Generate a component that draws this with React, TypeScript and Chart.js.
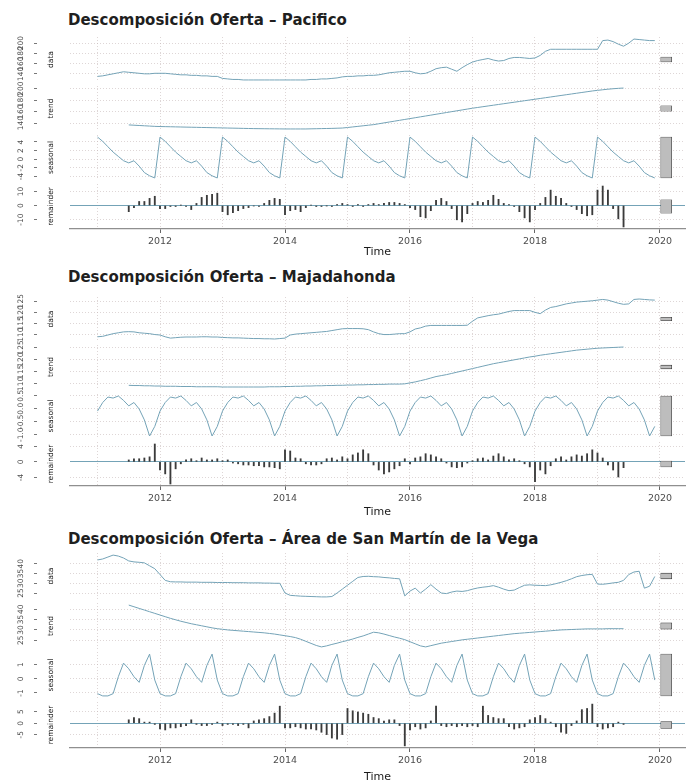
import React, { useEffect, useRef } from "react";
import { Chart, registerables } from "chart.js";
Chart.register(...registerables);

// ---------------- data (monthly, Jan 2011 - Dec 2019) ----------------
const MONTHS = 108;
const TIME = Array.from({ length: MONTHS }, (_, i) => 2011 + i / 12);
const YEAR_GRID = [2011, 2012, 2013, 2014, 2015, 2016, 2017, 2018, 2019, 2020];
const YEAR_LABELS = ["2012", "2014", "2016", "2018", "2020"];
const STRIPS = ["data", "trend", "seasonal", "remainder"];

const PAC_DATA = [
  135, 136, 138, 140, 142, 144, 143, 142, 141, 140, 140, 141,
  141, 141, 140, 139, 138, 138, 137, 137, 136, 136, 135, 135,
  131, 130, 129, 129, 128, 128, 128, 128, 128, 128, 128, 128,
  128, 128, 128, 128, 128, 129, 129, 130, 130, 131, 132, 134,
  135, 135, 136, 136, 137, 137, 138, 140, 142, 143, 144, 145,
  145, 142, 140, 141, 145, 150, 152, 153, 149, 145, 152, 158,
  163, 166, 168, 170, 167, 165, 166, 170, 172, 172, 171, 170,
  171, 176, 184, 188, 188, 188, 188, 188, 188, 188, 188, 188,
  188, 205, 206, 203, 198, 194, 200, 208, 207, 206, 205, 205,
];
const PAC_TREND = [
  null, null, null, null, null, null,
  137, 136.5, 136, 135.5, 135, 134.5,
  134.2, 134, 133.8, 133.6, 133.4, 133.2, 133, 132.8, 132.6, 132.4, 132.2, 132,
  131.8, 131.6, 131.4, 131.2, 131, 130.8, 130.6, 130.5, 130.4, 130.3, 130.2, 130.1,
  130, 130, 130, 130, 130, 130.2, 130.4, 130.6, 130.8, 131, 131.3, 131.6,
  132.5, 133.5, 134.5, 135.5, 136.5, 137.5, 139, 140.5, 142, 143.5, 145, 146.5,
  148, 149.5, 151, 152.5, 154, 155.5, 157, 158.5, 160, 161.5, 163, 164.5,
  166, 167.3, 168.6, 169.9, 171.2, 172.5, 173.8, 175.1, 176.4, 177.7, 179, 180.3,
  181.6, 182.9, 184.2, 185.5, 186.8, 188.1, 189.4, 190.7, 192, 193.3, 194.6, 195.9,
  197, 198, 199, 199.8, 200.5, 201,
  null, null, null, null, null, null,
];
const PAC_SEASONAL = [
  5.15, 4.15, 2.9, 1.65, 0.65, -0.35, -0.85, -0.35, -1.6, -3.1, -3.85, -4.35,
  5.15, 4.15, 2.9, 1.65, 0.65, -0.35, -0.85, -0.35, -1.6, -3.1, -3.85, -4.35,
  5.15, 4.15, 2.9, 1.65, 0.65, -0.35, -0.85, -0.35, -1.6, -3.1, -3.85, -4.35,
  5.15, 4.15, 2.9, 1.65, 0.65, -0.35, -0.85, -0.35, -1.6, -3.1, -3.85, -4.35,
  5.15, 4.15, 2.9, 1.65, 0.65, -0.35, -0.85, -0.35, -1.6, -3.1, -3.85, -4.35,
  5.15, 4.15, 2.9, 1.65, 0.65, -0.35, -0.85, -0.35, -1.6, -3.1, -3.85, -4.35,
  5.15, 4.15, 2.9, 1.65, 0.65, -0.35, -0.85, -0.35, -1.6, -3.1, -3.85, -4.35,
  5.15, 4.15, 2.9, 1.65, 0.65, -0.35, -0.85, -0.35, -1.6, -3.1, -3.85, -4.35,
  5.15, 4.15, 2.9, 1.65, 0.65, -0.35, -0.85, -0.35, -1.6, -3.1, -3.85, -4.35,
];
const PAC_REMAINDER = [
  null, null, null, null, null, null,
  -4.4, -1.5, 2.9, 2.9, 5.1, 6.6,
  -2.2, -2.2, -0.7, -0.7, 0.2, -0.7, -2.9, 1.5, 5.8, 7.3, 8.0, 8.8,
  -4.4, -6.6, -5.1, -3.7, -2.2, -1.5, -0.3, -0.7, 1.5, 3.7, 5.1, 4.4,
  -6.6, -3.7, -2.9, -4.4, -1.5, 0.3, -0.7, -0.7, -0.2, -0.7, 0.7, 1.5,
  0.7, -0.7, 0.7, -0.7, 0.7, 1.5, 0.7, 1.5, 2.2, 2.2, 1.5, 0.7,
  -1.5, -2.9, -8.0, -8.8, -3.7, 3.7, 5.1, 2.9, -2.2, -10.2, -11.7, -5.8,
  1.5, 2.9, 2.2, 3.7, 7.3, 4.4, 1.5, 0.7, -0.7, -4.4, -8.8, -11.7,
  -2.9, 1.5, 5.8, 11.0, 6.6, 5.1, 1.5, -0.7, -2.9, -5.8, -7.3, -6.6,
  11.0, 13.9, 11.0, -2.2, -9.5, -15.3,
  null, null, null, null, null, null,
];

const MAJ_DATA = [
  109.0, 109.2, 109.8, 110.4, 110.8, 111.2, 111.3, 111.2, 110.8, 110.6, 110.4, 110.0,
  109.8, 109.0, 108.4, 108.6, 108.8, 108.9, 108.9, 108.9, 109.0, 109.0, 108.9, 108.9,
  108.7, 108.6, 108.5, 108.5, 108.4, 108.3, 108.2, 108.2, 108.1, 108.1, 108.0, 108.2,
  108.4, 109.8, 110.2, 110.4, 110.6, 110.8, 111.0, 111.2, 111.4, 111.8, 112.2, 112.6,
  112.7, 112.7, 112.7, 112.6, 112.2, 111.2, 110.4, 110.0, 110.0, 110.2, 110.4, 110.4,
  111.2, 112.5, 113.0, 113.8, 114.1, 114.1, 114.1, 114.1, 114.1, 114.1, 114.1, 114.2,
  116.0, 117.5, 118.0, 118.5, 118.9, 119.2, 119.8, 120.4, 120.8, 120.8, 120.8, 120.8,
  120.0, 119.4, 121.0, 122.2, 122.6, 123.2, 123.8, 124.2, 124.6, 124.8, 125.0, 125.2,
  125.5, 125.8, 125.5, 124.8, 124.1, 123.6, 123.8, 125.8, 126.0, 125.8, 125.6, 125.5,
];
const MAJ_TREND = [
  null, null, null, null, null, null,
  109.4, 109.3, 109.3, 109.2, 109.2, 109.1,
  109.1, 109.0, 109.0, 109.0, 108.9, 108.9, 108.9, 108.8, 108.8, 108.8, 108.8, 108.8,
  108.7, 108.7, 108.7, 108.7, 108.7, 108.7, 108.7, 108.7, 108.7, 108.8, 108.8, 108.8,
  108.9, 108.9, 109.0, 109.0, 109.1, 109.1, 109.2, 109.2, 109.3, 109.3, 109.4, 109.4,
  109.5, 109.5, 109.6, 109.6, 109.7, 109.7, 109.8, 109.8, 109.9, 109.9, 109.9, 110.0,
  110.4, 110.8, 111.3, 111.8, 112.4, 113.0, 113.4, 113.8, 114.3, 114.8, 115.3, 115.8,
  116.3, 116.8, 117.3, 117.8, 118.3, 118.7, 119.1, 119.5, 119.9, 120.3, 120.7, 121.1,
  121.4, 121.8, 122.1, 122.4, 122.7, 123.0, 123.3, 123.6, 123.9, 124.1, 124.3, 124.5,
  124.7, 124.8, 124.9, 125.0, 125.1, 125.2,
  null, null, null, null, null, null,
];
const MAJ_SEASONAL = [
  -0.09, 0.24, 0.45, 0.41, 0.49, 0.32, 0.11, 0.24, -0.01, -0.43, -1.05, -0.68,
  -0.09, 0.24, 0.45, 0.41, 0.49, 0.32, 0.11, 0.24, -0.01, -0.43, -1.05, -0.68,
  -0.09, 0.24, 0.45, 0.41, 0.49, 0.32, 0.11, 0.24, -0.01, -0.43, -1.05, -0.68,
  -0.09, 0.24, 0.45, 0.41, 0.49, 0.32, 0.11, 0.24, -0.01, -0.43, -1.05, -0.68,
  -0.09, 0.24, 0.45, 0.41, 0.49, 0.32, 0.11, 0.24, -0.01, -0.43, -1.05, -0.68,
  -0.09, 0.24, 0.45, 0.41, 0.49, 0.32, 0.11, 0.24, -0.01, -0.43, -1.05, -0.68,
  -0.09, 0.24, 0.45, 0.41, 0.49, 0.32, 0.11, 0.24, -0.01, -0.43, -1.05, -0.68,
  -0.09, 0.24, 0.45, 0.41, 0.49, 0.32, 0.11, 0.24, -0.01, -0.43, -1.05, -0.68,
  -0.09, 0.24, 0.45, 0.41, 0.49, 0.32, 0.11, 0.24, -0.01, -0.43, -1.05, -0.68,
];
const MAJ_REMAINDER = [
  null, null, null, null, null, null,
  0.5, 0.8, 0.8, 1.0, 1.3, 4.6,
  -2.1, -3.1, -5.7, -1.8, -0.5, 0.5, 0.8, 0.3, 1.0, 0.5, 0.5, 0.8,
  0.3, 0.5, -0.3, -0.5, -0.8, -0.8, -1.0, -1.0, -1.3, -1.3, -1.5, -1.8,
  3.1, 2.8, 1.0, 0.8, -0.5, -0.8, -0.8, -0.5, 0.8, 1.0, 0.5, 1.3,
  0.8, 1.8, 2.3, 3.1, 2.1, -0.8, -2.1, -3.1, -2.6, -1.8, -1.0, 0.8,
  -0.5, 1.0, 1.3, 2.1, 1.8, 1.3, 0.8, -0.3, -1.3, -1.5, -1.3, -0.3,
  0.3, 0.8, 1.0, 0.5, 1.5, 2.1, 1.3, 0.5, 0.8, 0.3, -0.5, -1.3,
  -5.1, -2.1, -3.1, -1.0, 0.8, 1.3, 0.5, 1.3, 1.8, 1.5, 2.1, 3.1,
  2.3, 1.0, -0.8, -2.1, -3.9, -1.5,
  null, null, null, null, null, null,
];

const SMV_DATA = [
  42, 42.5, 43.5, 44.5, 44, 43, 41.5, 41, 40.8, 40.5, 39, 37.5,
  34.5, 31.5, 30.8, 30.7, 30.7, 30.6, 30.6, 30.6, 30.5, 30.5, 30.5, 30.4,
  30.4, 30.4, 30.3, 30.3, 30.3, 30.2, 30.2, 30.2, 30.1, 30.1, 30.0, 30.0,
  25, 23.8, 23.6, 23.4, 23.3, 23.2, 23.1, 23.0, 23.0, 23.2, 25, 27,
  29, 31, 33, 33.5, 33.6, 33.4, 33.3, 33.0, 32.8, 32.5, 32.3, 23.5,
  26, 27.5, 25, 27, 29.3, 27, 25, 24.7, 25.5, 26, 25.8, 26.2,
  27, 27.6, 28, 28.3, 28.8, 28, 27, 26.2, 26.5, 27.8, 29, 29.2,
  29, 28.9, 28.8, 29.2, 29.8, 30.5, 31.3, 32.3, 33.4, 34, 34.4, 34.6,
  29.6, 29.5, 29.8, 30.2, 30.5, 31.5, 34.5, 35.8, 36.2, 27.5, 28.5, 33.5,
];
const SMV_TREND = [
  null, null, null, null, null, null,
  42, 41.2, 40.4, 39.6, 38.8, 38,
  37.2, 36.4, 35.6, 34.9, 34.2, 33.6, 33, 32.5, 32, 31.5, 31, 30.6,
  30.3, 30, 29.8, 29.6, 29.4, 29.2, 29, 28.8, 28.6, 28.3, 28, 27.6,
  27.2, 26.8, 26.3, 25.5, 24.5, 23.5, 22.5, 21.8, 22.3, 23, 23.6, 24.3,
  24.9, 25.6, 26.4, 27.1, 28, 28.9, 28.6, 28, 27.3, 26.6, 26, 25.3,
  24.3, 23.3, 22.3, 21.8, 22.4, 23, 23.6, 24, 24.4, 24.8, 25.2, 25.5,
  25.8, 26.1, 26.4, 26.7, 27, 27.3, 27.6, 27.9, 28.2, 28.4, 28.6, 28.8,
  29, 29.2, 29.4, 29.6, 29.8, 30, 30.1, 30.2, 30.3, 30.4, 30.5, 30.5,
  30.5, 30.5, 30.6, 30.6, 30.6, 30.6,
  null, null, null, null, null, null,
];
const SMV_SEASONAL = [
  -1.05, -1.21, -1.21, -1.05, 0.15, 1.11, 0.71, 0.15, -0.25, 0.95, 1.75, -0.09,
  -1.05, -1.21, -1.21, -1.05, 0.15, 1.11, 0.71, 0.15, -0.25, 0.95, 1.75, -0.09,
  -1.05, -1.21, -1.21, -1.05, 0.15, 1.11, 0.71, 0.15, -0.25, 0.95, 1.75, -0.09,
  -1.05, -1.21, -1.21, -1.05, 0.15, 1.11, 0.71, 0.15, -0.25, 0.95, 1.75, -0.09,
  -1.05, -1.21, -1.21, -1.05, 0.15, 1.11, 0.71, 0.15, -0.25, 0.95, 1.75, -0.09,
  -1.05, -1.21, -1.21, -1.05, 0.15, 1.11, 0.71, 0.15, -0.25, 0.95, 1.75, -0.09,
  -1.05, -1.21, -1.21, -1.05, 0.15, 1.11, 0.71, 0.15, -0.25, 0.95, 1.75, -0.09,
  -1.05, -1.21, -1.21, -1.05, 0.15, 1.11, 0.71, 0.15, -0.25, 0.95, 1.75, -0.09,
  -1.05, -1.21, -1.21, -1.05, 0.15, 1.11, 0.71, 0.15, -0.25, 0.95, 1.75, -0.09,
];
const SMV_REMAINDER = [
  null, null, null, null, null, null,
  1.5, 2.5, 2.0, 0.5, 0.5, -0.5,
  -2.5, -2.9, -2.0, -2.0, -1.5, -1.0, 1.5, -0.5, -1.0, -1.0, -0.5, 0.5,
  -1.0, -0.5, -0.5, -1.0, -0.5, -2.0, 1.0, 1.5, 2.0, 2.9, 4.4, 7.4,
  -2.0, -2.0, -1.5, -2.0, -2.5, -2.5, -2.9, -3.9, -4.9, -6.4, -6.9, -4.9,
  6.4, 5.4, 4.9, 4.4, 3.9, 2.5, 2.0, 1.0, 1.5, 1.5, -1.0, -9.8,
  -2.9, -1.5, -2.5, -2.0, 1.0, 7.4, -1.0, -1.5, -1.0, -1.5, -1.0, -1.5,
  -1.0, -1.5, 7.4, 3.4, 2.5, 2.0, 2.0, -1.5, -2.5, -2.0, -1.5, 1.5,
  2.5, 3.4, 2.0, 0.5, -1.5, -3.9, -4.4, -1.0, 1.0, 5.9, 6.4, 8.3,
  -1.5, -2.5, -2.0, -1.5, 0.5, -0.5,
  null, null, null, null, null, null,
];

// tick labels (data, trend, seasonal, remainder)
const PAC_TICKS = [["140", "160", "180", "200"], ["140", "160", "180", "200"], ["-4", "-2", "0", "2", "4"], ["-10", "0", "10"]];
const MAJ_TICKS = [["110", "115", "120", "125"], ["110", "115", "120", "125"], ["-1.0", "-0.5", "0.0", "0.5"], ["-4", "0", "4"]];
const SMV_TICKS = [["25", "30", "35", "40"], ["25", "30", "35", "40"], ["-1", "0", "1"], ["-5", "0", "5"]];

const TITLES = [
  "Descomposición Oferta – Pacifico",
  "Descomposición Oferta – Majadahonda",
  "Descomposición Oferta – Área de San Martín de la Vega",
];

// ---------------- styling / layout ----------------
const FONT = "'DejaVu Sans', sans-serif";
const LINE = "#74a3b7";
const GRID = "rgba(195,180,180,0.55)";
const X_MIN = 2010.56;
const X_MAX = 2020.4;
const BAR_X = 2020.1;
const W = 691;
const M = 8;
const TICK_AXIS_W = 37;
const STRIP_W = 33;
const LABEL_X = 21;
const YTICK_SIZE = 7.5;

const BLOCKS = [
  { title: TITLES[0], titleY: 20, top: 37, bottom: 229, axisH: 30, comps: [PAC_DATA, PAC_TREND, PAC_SEASONAL, PAC_REMAINDER], ticks: PAC_TICKS },
  { title: TITLES[1], titleY: 277, top: 297, bottom: 486, axisH: 33, comps: [MAJ_DATA, MAJ_TREND, MAJ_SEASONAL, MAJ_REMAINDER], ticks: MAJ_TICKS },
  { title: TITLES[2], titleY: 539, top: 553, bottom: 747, axisH: 36, comps: [SMV_DATA, SMV_TREND, SMV_SEASONAL, SMV_REMAINDER], ticks: SMV_TICKS },
];
const GAP = 4;

function extent(a: (number | null)[]) {
  const v = a.filter((x) => x !== null) as number[];
  return [Math.min(...v), Math.max(...v)];
}

type Panel = {
  values: (number | null)[];
  kind: "line" | "bars";
  strip: string;
  tickLabels: string[];
  bar: number[];
  lim: number[];
  isBottom: boolean;
  axisH: number;
  canvasTop: number;
  canvasH: number;
};

const PANELS: Panel[] = [];
BLOCKS.forEach((b) => {
  const ph = (b.bottom - b.top - 3 * GAP) / 4;
  const ext = b.comps.map(extent);
  const minRange = Math.min(...ext.map((e) => e[1] - e[0]));
  b.comps.forEach((vals, k) => {
    const e = ext[k];
    const mid = (e[0] + e[1]) / 2;
    const bar = [mid - minRange / 2, mid + minRange / 2];
    const lo = Math.min(e[0], bar[0]);
    const hi = Math.max(e[1], bar[1]);
    const r = hi - lo;
    const top = b.top + k * (ph + GAP);
    const isBottom = k === 3;
    PANELS.push({
      values: vals,
      kind: k === 3 ? "bars" : "line",
      strip: STRIPS[k],
      tickLabels: b.ticks[k],
      bar,
      lim: [lo - 0.05 * r, hi + 0.05 * r],
      isBottom,
      axisH: b.axisH,
      canvasTop: top - M,
      canvasH: isBottom ? ph + M + b.axisH : ph + 2 * M,
    });
  });
});

function measureWidest(labels: string[]) {
  const c = document.createElement("canvas").getContext("2d")!;
  c.font = `${YTICK_SIZE}px ${FONT}`;
  return Math.max(...labels.map((l) => c.measureText(l).width));
}

function buildConfig(p: Panel): any {
  const pts = TIME.map((t, i) => ({ x: t, y: p.values[i] })).filter((d) => d.y !== null);
  const tickVals = p.tickLabels.map(Number);
  const widest = measureWidest(p.tickLabels);
  const pad = TICK_AXIS_W - 3 - LABEL_X - widest / 2;
  const datasets: any[] = [];
  if (p.kind === "line") {
    datasets.push({ type: "line", data: pts, borderColor: LINE, borderWidth: 1, pointRadius: 0, tension: 0, fill: false, order: 1 });
  } else {
    datasets.push({ type: "bar", data: pts, backgroundColor: "#3b3b3b", barThickness: 1.2, grouped: false, order: 1 });
  }
  datasets.push({
    type: "bar",
    data: [{ x: BAR_X, y: p.bar }],
    backgroundColor: "#bdbdbd",
    borderColor: "#2a2a2a",
    borderWidth: 0.6,
    borderSkipped: false,
    barThickness: 11,
    grouped: false,
    order: 0,
  });
  const isRem = p.kind === "bars";
  return {
    type: "line",
    data: { datasets },
    options: {
      responsive: false,
      animation: false,
      events: [],
      layout: { padding: { left: 0, right: 6, top: M, bottom: p.isBottom ? 0 : M } },
      plugins: { legend: { display: false }, tooltip: { enabled: false }, title: { display: false } },
      scales: {
        x: {
          type: "linear",
          min: X_MIN,
          max: X_MAX,
          offset: false,
          afterBuildTicks: (s: any) => {
            s.ticks = YEAR_GRID.map((v) => ({ value: v }));
          },
          ticks: {
            display: p.isBottom,
            autoSkip: false,
            minRotation: 0,
            maxRotation: 0,
            padding: 3,
            font: { family: FONT, size: 9.5 },
            color: "#4d4d4d",
            callback: (v: any) => (YEAR_LABELS.includes(String(v)) ? String(v) : ""),
          },
          grid: {
            offset: false,
            color: GRID,
            lineWidth: 1,
            drawTicks: p.isBottom,
            tickLength: 4,
            tickWidth: 1,
            tickColor: (c: any) => (c.tick && YEAR_LABELS.includes(String(c.tick.value)) ? "#666" : "rgba(0,0,0,0)"),
          },
          border: { display: p.isBottom, color: "#8f8f8f", width: 1.3, dash: [1, 2] },
          title: { display: p.isBottom, text: "Time", font: { family: FONT, size: 11 }, color: "#1a1a1a", padding: { top: 0, bottom: 0 } },
          afterFit: (s: any) => {
            s.height = p.isBottom ? p.axisH : 0;
            s.paddingLeft = 0;
            s.paddingRight = 0;
          },
        },
        y: {
          type: "linear",
          position: "left",
          weight: 1,
          min: p.lim[0],
          max: p.lim[1],
          offset: false,
          beginAtZero: false,
          afterBuildTicks: (s: any) => {
            s.ticks = tickVals.map((v) => ({ value: v }));
          },
          ticks: {
            autoSkip: false,
            minRotation: 90,
            maxRotation: 90,
            crossAlign: "center",
            padding: pad,
            font: { family: FONT, size: YTICK_SIZE },
            color: "#4d4d4d",
            callback: (_v: any, i: number) => p.tickLabels[i],
          },
          grid: {
            color: (c: any) => (isRem && c.tick && c.tick.value === 0 ? LINE : GRID),
            lineWidth: 1,
            drawTicks: true,
            tickLength: 3,
            tickWidth: 0.8,
            tickColor: "#555",
          },
          border: { display: false, dash: (c: any) => (isRem && c.tick && c.tick.value === 0 ? [] : [1, 2]) },
          afterFit: (s: any) => {
            s.width = TICK_AXIS_W;
            s.paddingTop = 0;
            s.paddingBottom = 0;
          },
        },
        ys: {
          type: "linear",
          position: "left",
          weight: 0,
          min: 0,
          max: 1,
          ticks: { display: false },
          grid: { display: false },
          border: { display: false },
          title: { display: true, text: p.strip, font: { family: FONT, size: 7.5 }, color: "#1a1a1a", padding: { top: 10, bottom: 0 } },
          afterFit: (s: any) => {
            s.width = STRIP_W;
            s.paddingTop = 0;
            s.paddingBottom = 0;
          },
        },
      },
    },
  };
}

export default function App() {
  const refs = useRef<(HTMLCanvasElement | null)[]>([]);
  useEffect(() => {
    const charts: Chart[] = [];
    PANELS.forEach((p, k) => {
      const c = refs.current[k];
      if (c) charts.push(new Chart(c, buildConfig(p)));
    });
    return () => charts.forEach((c) => c.destroy());
  }, []);
  return (
    <div style={{ position: "absolute", left: 0, top: 0, width: W, height: 783, background: "#fff", overflow: "hidden" }}>
      {BLOCKS.map((b, i) => (
        <div
          key={"t" + i}
          style={{
            position: "absolute",
            left: 68,
            top: b.titleY - 9,
            height: 18,
            lineHeight: "18px",
            fontFamily: FONT,
            fontWeight: "bold",
            fontSize: 15,
            color: "#1f1f1f",
            whiteSpace: "nowrap",
          }}
        >
          {b.title}
        </div>
      ))}
      {PANELS.map((p, k) => (
        <canvas
          key={k}
          ref={(el) => {
            refs.current[k] = el;
          }}
          width={W}
          height={Math.round(p.canvasH)}
          style={{ position: "absolute", left: 0, top: Math.round(p.canvasTop), width: W, height: Math.round(p.canvasH), display: "block" }}
        />
      ))}
    </div>
  );
}
